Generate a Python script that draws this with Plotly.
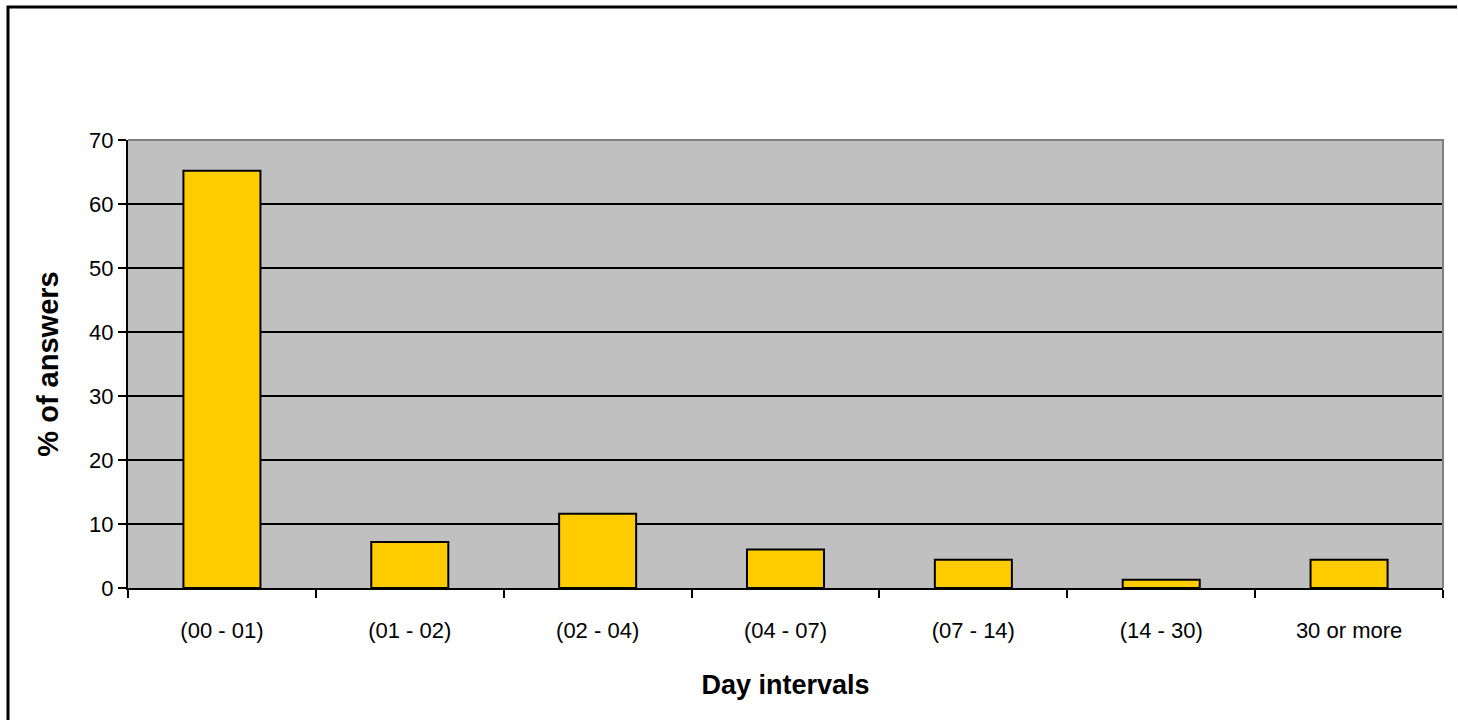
import plotly.graph_objects as go

# Survey results: share of answers per day interval
categories = ["(00 - 01)", "(01 - 02)", "(02 - 04)", "(04 - 07)", "(07 - 14)", "(14 - 30)", "30 or more"]
percent_answers = [65.2, 7.2, 11.6, 6.0, 4.4, 1.3, 4.4]
y_ticks = [0, 10, 20, 30, 40, 50, 60, 70]

W, H = 1458, 720
M_L, M_R, M_T, M_B = 128, 15, 140, 132

fig = go.Figure(
    go.Bar(
        x=categories,
        y=percent_answers,
        marker=dict(color="#FFCC00", line=dict(color="black", width=2)),
        hoverinfo="x+y",
    )
)

plot_w = W - M_L - M_R
plot_h = H - M_T - M_B

# outer chart frame: only the left and top edges fall inside the page
fx0 = (8 - M_L) / plot_w
fx1 = (W - 1 - M_L) / plot_w
fy0 = -(M_B + 10) / plot_h
fy1 = (H - M_B - 7) / plot_h

fig.update_layout(
    width=W,
    height=H,
    margin=dict(l=M_L, r=M_R, t=M_T, b=M_B),
    paper_bgcolor="white",
    plot_bgcolor="#C0C0C0",
    bargap=0.59,
    showlegend=False,
    font=dict(family="Liberation Sans, Arial, sans-serif", color="black", size=22),
    xaxis=dict(
        type="category",
        showline=True,
        linecolor="black",
        linewidth=2,
        ticks="outside",
        tickson="boundaries",
        ticklen=8,
        tickwidth=2,
        tickcolor="black",
        showgrid=False,
        ticklabelstandoff=22,
        tickfont=dict(size=22),
        title=dict(text="<b>Day intervals</b>", font=dict(size=27), standoff=33),
    ),
    yaxis=dict(
        range=[0, 70],
        tickvals=y_ticks,
        showline=True,
        linecolor="black",
        linewidth=2,
        ticks="outside",
        ticklen=8,
        tickwidth=2,
        tickcolor="black",
        showgrid=True,
        gridcolor="black",
        gridwidth=2,
        zeroline=False,
        tickfont=dict(size=22),
        title=dict(text="<b>% of answers</b>", font=dict(size=29), standoff=22),
    ),
    shapes=[
        # grey frame on the top and right of the plot area
        dict(
            type="path",
            xref="paper",
            yref="paper",
            path="M 0 1 L 1 1 L 1 0",
            line=dict(color="#808080", width=2),
            layer="above",
        ),
        dict(
            type="path",
            xref="paper",
            yref="paper",
            path=f"M {fx0} {fy0} L {fx0} {fy1} L {fx1} {fy1}",
            line=dict(color="black", width=3),
        ),
    ],
)

fig.write_html("out.html")
